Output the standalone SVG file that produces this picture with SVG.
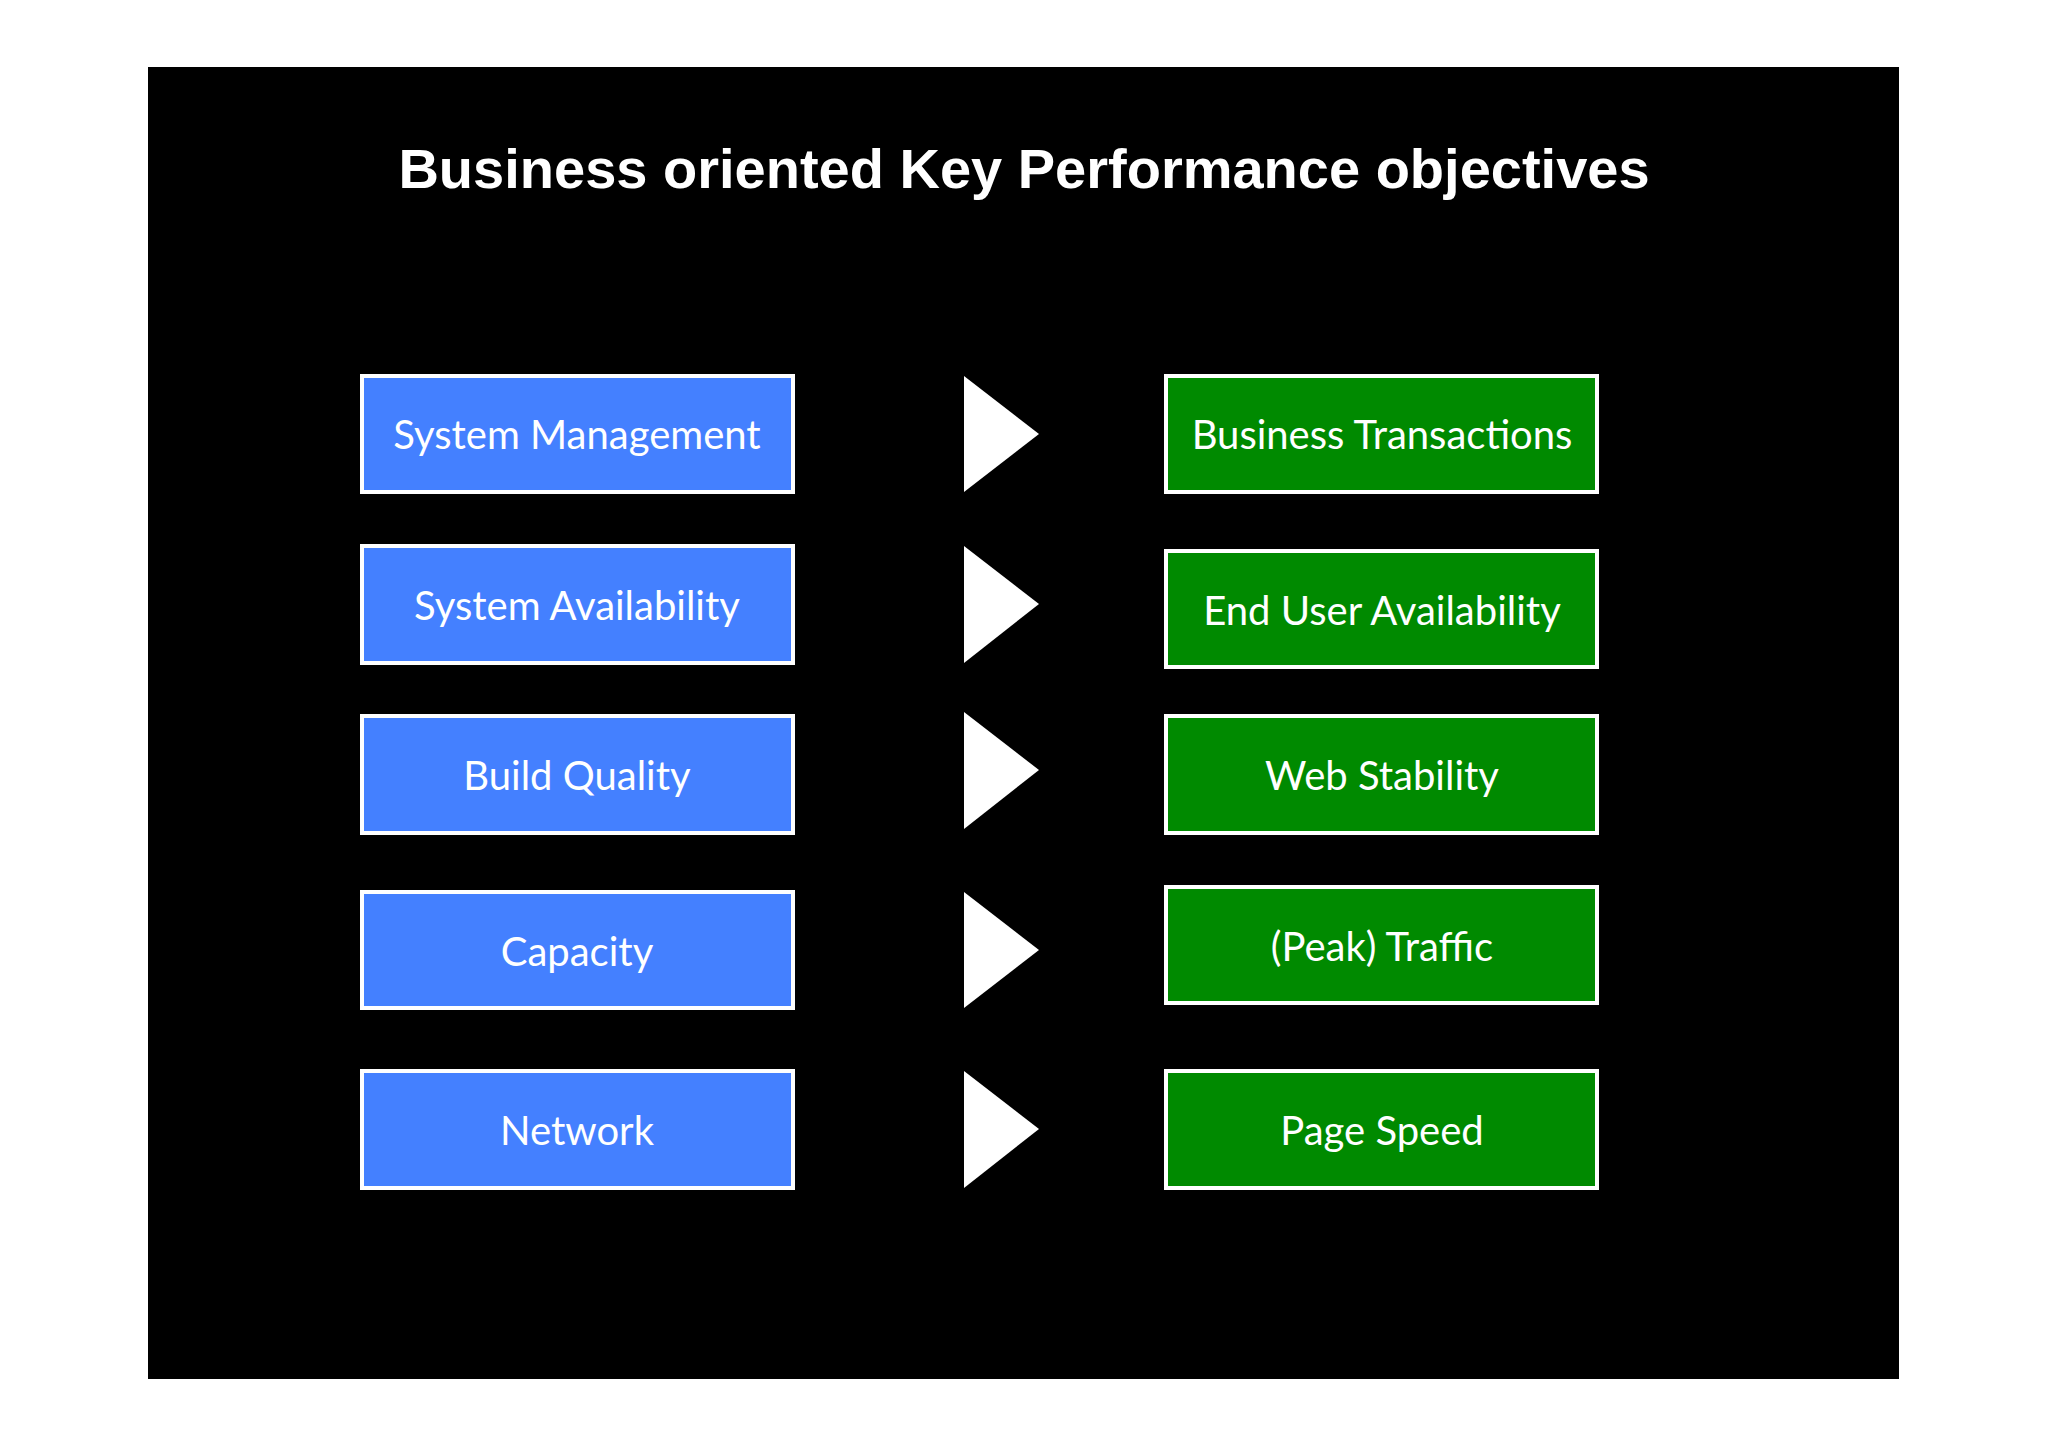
<svg xmlns="http://www.w3.org/2000/svg" width="2048" height="1447" viewBox="0 0 2048 1447">
<style>
.b{fill:#4480ff;stroke:#fff;stroke-width:4}
.g{fill:#008a00;stroke:#fff;stroke-width:4}
.t{fill:#fff;font-family:Lato,"Open Sans",sans-serif;font-size:40px;text-anchor:middle}
.a{fill:#fff}
</style>
<rect width="2048" height="1447" fill="#fff"/>
<rect x="148" y="67" width="1751" height="1312" fill="#000"/>
<text x="1024" y="188" fill="#fff" font-family="Liberation Sans,Arial,sans-serif" font-weight="bold" font-size="56" text-anchor="middle">Business oriented Key Performance objectives</text>
<g id="n1"><rect class="b" x="362" y="376" width="431" height="116"/><text class="t" x="577" y="449">System Management</text></g>
<g id="n2"><rect class="b" x="362" y="546" width="431" height="117"/><text class="t" x="577" y="620">System Availability</text></g>
<g id="n3"><rect class="b" x="362" y="716" width="431" height="117"/><text class="t" x="577" y="790">Build Quality</text></g>
<g id="n4"><rect class="b" x="362" y="892" width="431" height="116"/><text class="t" x="577" y="966">Capacity</text></g>
<g id="n5"><rect class="b" x="362" y="1071" width="431" height="117"/><text class="t" x="577" y="1145">Network</text></g>
<g id="m1"><rect class="g" x="1166" y="376" width="431" height="116"/><text class="t" x="1382" y="449">Business Transactions</text></g>
<g id="m2"><rect class="g" x="1166" y="551" width="431" height="116"/><text class="t" x="1382" y="625">End User Availability</text></g>
<g id="m3"><rect class="g" x="1166" y="716" width="431" height="117"/><text class="t" x="1382" y="790">Web Stability</text></g>
<g id="m4"><rect class="g" x="1166" y="887" width="431" height="116"/><text class="t" x="1382" y="961">(Peak) Traffic</text></g>
<g id="m5"><rect class="g" x="1166" y="1071" width="431" height="117"/><text class="t" x="1382" y="1145">Page Speed</text></g>
<g id="connectors">
<polygon class="a" points="964,376 1039,434 964,492"/>
<polygon class="a" points="964,546 1039,604 964,663"/>
<polygon class="a" points="964,712 1039,770 964,829"/>
<polygon class="a" points="964,892 1039,950 964,1008"/>
<polygon class="a" points="964,1071 1039,1129 964,1188"/>
</g>
</svg>
